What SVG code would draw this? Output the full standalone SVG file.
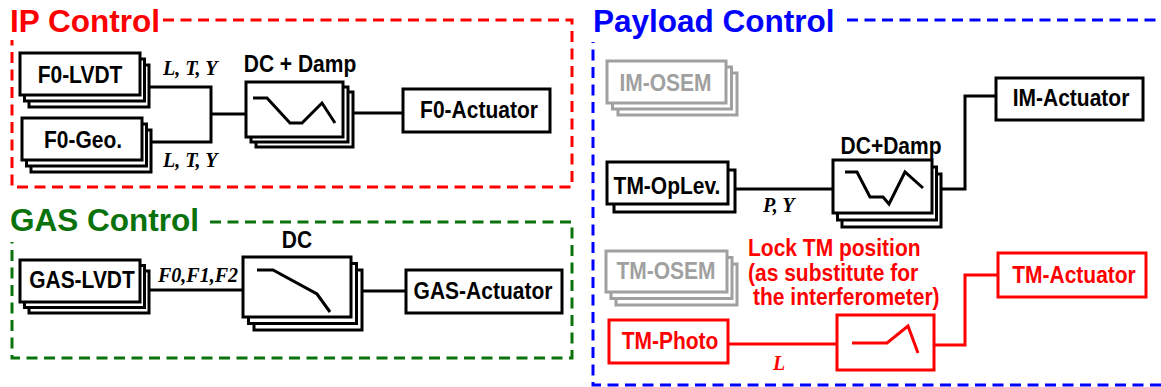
<svg xmlns="http://www.w3.org/2000/svg" width="1161" height="387" viewBox="0 0 1161 387">
<style>
.bg{fill:#fff}
.title{font-family:"Liberation Sans",Arial,sans-serif;font-weight:bold;font-size:31.5px}
.lbl{font-family:"Liberation Sans",Arial,sans-serif;font-weight:bold;font-size:21px;text-anchor:middle}
.note{font-family:"Liberation Sans",Arial,sans-serif;font-weight:bold;font-size:21px;fill:#f00}
.sig{font-family:"Liberation Serif","Times New Roman",serif;font-weight:bold;font-style:italic;font-size:20px}
.box{fill:#fff;stroke:#000;stroke-width:3}
.gbox{fill:#fff;stroke:#a0a0a0;stroke-width:3}
.rbox{fill:#fff;stroke:#f00;stroke-width:3}
.wire{fill:none;stroke:#000;stroke-width:3}
.rwire{fill:none;stroke:#f00;stroke-width:3}
.dash{fill:none;stroke-width:3;stroke-dasharray:11 6.5}
</style>
<rect class="bg" x="0" y="0" width="1161" height="387"/>

<g id="frames">
  <path class="dash" stroke="#f00" d="M163,20 H572 V187 H12 V40"/>
  <path class="dash" stroke="#0a720a" d="M210,222 H572 V358 H12 V242"/>
  <path class="dash" stroke="#00f" d="M847,20 H1161"/>
  <path class="dash" stroke="#00f" d="M1161,385 H593 V42"/>
  <text class="title" x="10" y="32" fill="#f00">IP Control</text>
  <text class="title" x="10" y="231" fill="#0a720a">GAS Control</text>
  <text class="title" x="593" y="32" fill="#00f">Payload Control</text>
</g>

<g id="connectors">
  <path class="wire" d="M150,87 H211 V142 H150 M211,114 H246"/>
  <path class="wire" d="M353,113 H403"/>
  <path class="wire" d="M150,290 H243"/>
  <path class="wire" d="M362,291 H406"/>
  <path class="wire" d="M735,189 H833"/>
  <path class="wire" d="M942,189 H965 V96 H996"/>
  <path class="rwire" d="M728,344 H837"/>
  <path class="rwire" d="M934,345 H965 V275 H998"/>
  <text class="sig" x="163" y="75">L, T, Y</text>
  <text class="sig" x="163" y="167">L, T, Y</text>
  <text class="sig" x="158" y="282">F0,F1,F2</text>
  <text class="sig" x="763" y="212">P, Y</text>
  <text class="sig" x="773" y="370" fill="#f00">L</text>
</g>

<g id="f0-lvdt">
  <rect class="box" x="29" y="65" width="120" height="42"/>
  <rect class="box" x="24.5" y="59" width="120" height="42"/>
  <rect class="box" x="20" y="53" width="120" height="42"/>
  <text class="lbl" transform="translate(80,83) scale(1,1.1)">F0-LVDT</text>
</g>

<g id="f0-geo">
  <rect class="box" x="31" y="130" width="120" height="42"/>
  <rect class="box" x="26.5" y="124" width="120" height="42"/>
  <rect class="box" x="22" y="118" width="120" height="42"/>
  <text class="lbl" transform="translate(83,148) scale(1,1.1)">F0-Geo.</text>
</g>

<g id="ip-filter">
  <text class="lbl" transform="translate(300,72) scale(1,1.1)">DC + Damp</text>
  <rect class="box" x="256" y="92" width="97" height="55"/>
  <rect class="box" x="251" y="87" width="97" height="55"/>
  <rect class="box" x="246" y="82" width="97" height="55"/>
  <polyline class="wire" points="253,98 267,98 290,123 302,123 322,103 335,123"/>
</g>

<g id="f0-actuator">
  <rect class="box" x="403" y="89" width="147" height="43"/>
  <text class="lbl" transform="translate(479,118) scale(1,1.1)">F0-Actuator</text>
</g>

<g id="gas-lvdt">
  <rect class="box" x="29" y="271" width="120" height="42"/>
  <rect class="box" x="24.5" y="265.5" width="120" height="42"/>
  <rect class="box" x="20" y="260" width="120" height="42"/>
  <text class="lbl" transform="translate(82,288) scale(1,1.1)">GAS-LVDT</text>
</g>

<g id="gas-filter">
  <text class="lbl" transform="translate(297,248) scale(1,1.1)">DC</text>
  <rect class="box" x="254" y="270" width="108" height="60"/>
  <rect class="box" x="248.5" y="263.5" width="108" height="60"/>
  <rect class="box" x="243" y="257" width="108" height="60"/>
  <polyline class="wire" points="257,270 273,270 317,294 330,312"/>
</g>

<g id="gas-actuator">
  <rect class="box" x="406" y="270" width="156" height="43"/>
  <text class="lbl" transform="translate(483,299) scale(1,1.1)">GAS-Actuator</text>
</g>

<g id="im-osem">
  <rect class="gbox" x="618" y="73" width="119" height="42"/>
  <rect class="gbox" x="612.5" y="67" width="119" height="42"/>
  <rect class="gbox" x="607" y="61" width="119" height="42"/>
  <text class="lbl" transform="translate(665.5,91) scale(1,1.1)" fill="#a0a0a0">IM-OSEM</text>
</g>

<g id="tm-oplev">
  <rect class="box" x="614" y="170" width="121" height="42"/>
  <rect class="box" x="607" y="162" width="121" height="42"/>
  <text class="lbl" transform="translate(667,194) scale(1,1.1)">TM-OpLev.</text>
</g>

<g id="pl-filter">
  <text class="lbl" transform="translate(891,154) scale(1,1.1)">DC+Damp</text>
  <rect class="box" x="842" y="174" width="99" height="53"/>
  <rect class="box" x="837.5" y="167" width="99" height="53"/>
  <rect class="box" x="833" y="160" width="99" height="53"/>
  <polyline class="wire" points="845,172 857,172 870,197 883,197 889,204 905,172 923,188"/>
</g>

<g id="im-actuator">
  <rect class="box" x="996" y="78" width="147" height="42"/>
  <text class="lbl" transform="translate(1071,106) scale(1,1.1)">IM-Actuator</text>
</g>

<g id="tm-osem">
  <rect class="gbox" x="616" y="264" width="121" height="41"/>
  <rect class="gbox" x="611" y="257.5" width="121" height="41"/>
  <rect class="gbox" x="606" y="251" width="121" height="41"/>
  <text class="lbl" transform="translate(666,279) scale(1,1.1)" fill="#a0a0a0">TM-OSEM</text>
</g>

<g id="lock-note">
  <text class="note" transform="translate(748,256) scale(1,1.1)">Lock TM position</text>
  <text class="note" transform="translate(748,281) scale(1,1.1)">(as substitute for</text>
  <text class="note" transform="translate(753,305) scale(1,1.1)">the interferometer)</text>
</g>

<g id="tm-photo">
  <rect class="rbox" x="609" y="320" width="119" height="43"/>
  <text class="lbl" transform="translate(670,349) scale(1,1.1)" fill="#f00">TM-Photo</text>
</g>

<g id="lock-filter">
  <rect class="rbox" x="837" y="315" width="97" height="55"/>
  <polyline class="rwire" points="852,343 887,343 908,326 918,353"/>
</g>

<g id="tm-actuator">
  <rect class="rbox" x="998" y="253" width="148" height="44"/>
  <text class="lbl" transform="translate(1074,283) scale(1,1.1)" fill="#f00">TM-Actuator</text>
</g>
</svg>
